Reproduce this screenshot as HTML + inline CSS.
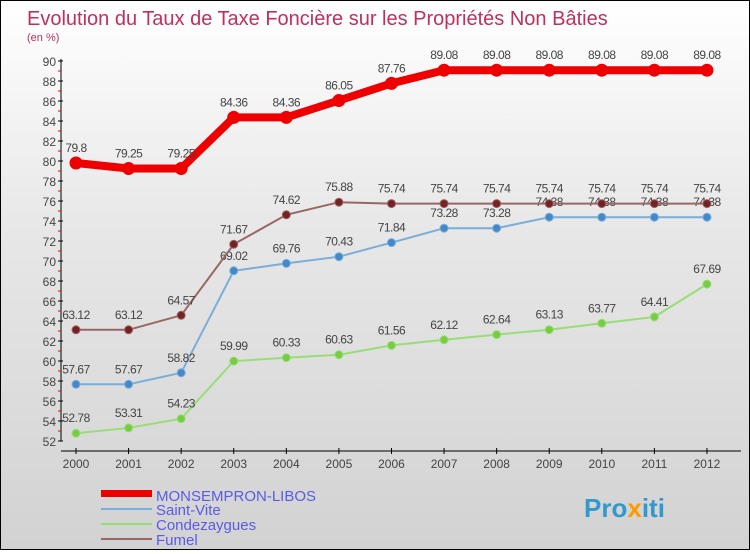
<!DOCTYPE html>
<html><head><meta charset="utf-8"><style>
body{margin:0}
#c{width:748px;height:548px;border:1px solid #000;background:linear-gradient(#fff,#e8e8e8 40%,#d2d2d2);position:relative;font-family:"Liberation Sans",sans-serif}
text{font-family:"Liberation Sans",sans-serif}
</style></head><body>
<div id="c">
<svg id="s" width="748" height="548">
<text x="26" y="24" font-size="20" fill="#c0305f">Evolution du Taux de Taxe Foncière sur les Propriétés Non Bâties</text>
<text x="26" y="40" font-size="11" fill="#c0305f">(en %)</text>
<g id="ax"></g><g id="ser"></g>
<g>
<rect x="100" y="489" width="51" height="7" fill="#e00"/>
<text x="155" y="500" font-size="15" fill="#5a5ae8">MONSEMPRON-LIBOS</text>
<line x1="100" x2="151" y1="508" y2="508" stroke="#7aaed8" stroke-width="2"/>
<text x="155" y="514" font-size="15" fill="#5a5ae8">Saint-Vite</text>
<line x1="100" x2="151" y1="523" y2="523" stroke="#99dd77" stroke-width="2"/>
<text x="155" y="529" font-size="15" fill="#5a5ae8">Condezaygues</text>
<line x1="100" x2="151" y1="538" y2="538" stroke="#996666" stroke-width="2"/>
<text x="155" y="544" font-size="15" fill="#5a5ae8">Fumel</text>
</g>
<text x="583" y="516" font-size="26" font-weight="bold" fill="#3399cc">Pro<tspan fill="#ff9900">x</tspan>iti</text>
</svg></div>
<script>
const years=["2000","2001","2002","2003","2004","2005","2006","2007","2008","2009","2010","2011","2012"];
const monsempron=[79.8,79.25,79.25,84.36,84.36,86.05,87.76,89.08,89.08,89.08,89.08,89.08,89.08];
const saintVite=[57.67,57.67,58.82,69.02,69.76,70.43,71.84,73.28,73.28,74.38,74.38,74.38,74.38];
const condezaygues=[52.78,53.31,54.23,59.99,60.33,60.63,61.56,62.12,62.64,63.13,63.77,64.41,67.69];
const fumel=[63.12,63.12,64.57,71.67,74.62,75.88,75.74,75.74,75.74,75.74,75.74,75.74,75.74];
const yTicks=[52,54,56,58,60,62,64,66,68,70,72,74,76,78,80,82,84,86,88,90];
const NS="http://www.w3.org/2000/svg";
const X=i=>75+i*52.58, Y=v=>440-(v-52)*10;
function mk(p,t,a){const e=document.createElementNS(NS,t);for(const k in a)e.setAttribute(k,a[k]);p.appendChild(e);return e;}
const ax=document.getElementById('ax'),ser=document.getElementById('ser');
mk(ax,'line',{x1:60,x2:60,y1:58,y2:440,stroke:'#000'});
mk(ax,'line',{x1:60,x2:740,y1:450,y2:450,stroke:'#000'});
yTicks.forEach(v=>{
 mk(ax,'line',{x1:57,x2:62,y1:Y(v),y2:Y(v),stroke:'#000'});
 mk(ax,'line',{x1:57,x2:60,y1:Y(v+1),y2:Y(v+1),stroke:v<90?'#e00':'none'});
 const t=mk(ax,'text',{x:55,y:Y(v)+5,'font-size':12,fill:'#444','text-anchor':'end'});t.textContent=v;
 
 
});
years.forEach((y,i)=>{
 mk(ax,'line',{x1:X(i),x2:X(i),y1:447,y2:453,stroke:'#000'});
 const t=mk(ax,'text',{x:X(i),y:467,'font-size':12,fill:'#444','text-anchor':'middle'});t.textContent=y;
 
 
});
function draw(vals,color,dot,w,r,name){
 const g=mk(ser,'g',{});
 
 
 mk(g,'polyline',{points:vals.map((v,i)=>X(i)+','+Y(v)).join(' '),fill:'none',stroke:color,'stroke-width':w});
 vals.forEach((v,i)=>{
  const c=mk(g,'circle',{cx:X(i),cy:Y(v),r:r,fill:dot,stroke:color});
  
  
  const t=mk(g,'text',{x:X(i),y:Y(v)-11,'font-size':12,fill:'#444','text-anchor':'middle','letter-spacing':'-0.5'});t.textContent=v;
  
  
 });
}
draw(condezaygues,'#99dd77','#77cc44',2,4,'series-condezaygues');
draw(saintVite,'#7aaed8','#4488cc',2,4,'series-saint-vite');
draw(fumel,'#996666','#772222',2,4,'series-fumel');
draw(monsempron,'#ee0000','#ee0000',8,6,'series-monsempron');
</script>
</body></html>
